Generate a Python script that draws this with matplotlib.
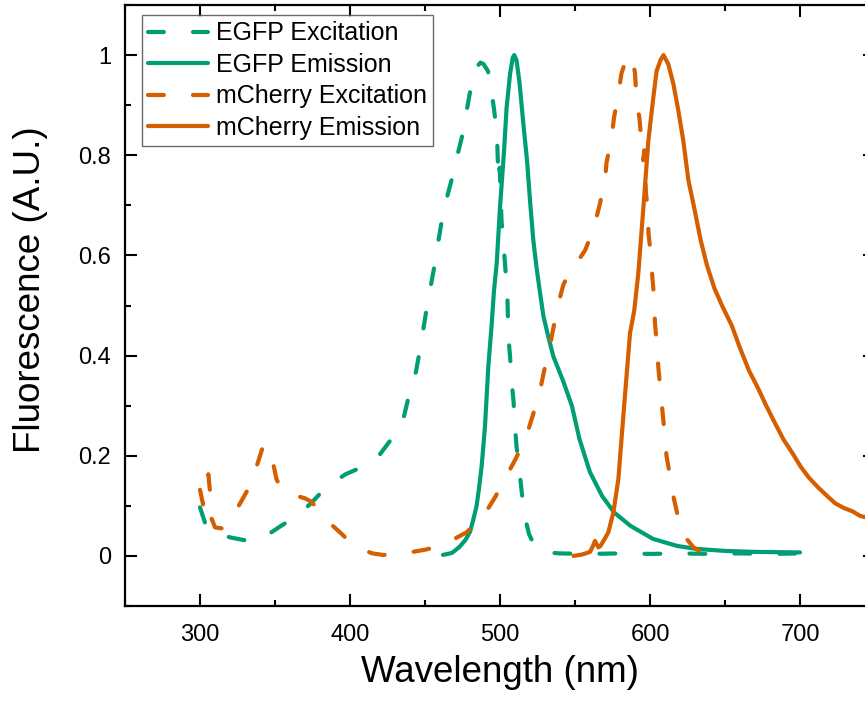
import matplotlib
matplotlib.use("Agg")
import matplotlib.pyplot as plt
from matplotlib.ticker import MultipleLocator, FuncFormatter

plt.rcParams['font.family'] = ['Liberation Sans', 'DejaVu Sans']

GREEN = '#009E73'
ORANGE = '#D55E00'

# EGFP excitation spectrum
egfp_ex_nm = [300, 304, 310, 320, 332, 340, 344, 353, 365, 374, 384, 397, 410, 420, 430,
              436, 440, 444, 447, 449, 452, 457, 459, 462, 465, 469, 472, 476, 478, 481,
              484, 487, 489, 492, 494, 496, 498, 498.5, 499.3, 499.8, 501, 502.5, 503.5,
              505, 505.6, 506.7, 507.8, 509, 510, 511, 513, 514.4, 516.2, 519.3, 523,
              527, 531, 540, 560, 580, 600, 620, 640, 660, 680, 700]
egfp_ex = [0.097, 0.060, 0.048, 0.037, 0.030, 0.034, 0.040, 0.058, 0.081, 0.105, 0.137,
           0.163, 0.180, 0.203, 0.243, 0.279, 0.329, 0.368, 0.418, 0.455, 0.510, 0.590,
           0.630, 0.684, 0.720, 0.765, 0.805, 0.853, 0.893, 0.942, 0.975, 0.985, 0.982,
           0.968, 0.932, 0.893, 0.840, 0.793, 0.750, 0.775, 0.670, 0.617, 0.577, 0.510,
           0.438, 0.398, 0.348, 0.309, 0.259, 0.219, 0.170, 0.130, 0.083, 0.044, 0.020,
           0.010, 0.007, 0.005, 0.004, 0.005, 0.004, 0.005, 0.004, 0.005, 0.004, 0.005]

# EGFP emission spectrum
egfp_em_nm = [462, 468, 473, 477, 480, 482, 484.4, 486, 487.8, 490, 492.2, 494.4, 496,
              497.8, 500, 502.7, 504.4, 506.7, 508.5, 509.5, 511, 513, 515.5, 518, 520,
              522.2, 524.4, 526.7, 529, 532, 535.6, 542, 548, 553, 560, 568, 576, 587, 602,
              618, 631, 650, 670, 700]
egfp_em = [0.002, 0.006, 0.018, 0.032, 0.048, 0.070, 0.100, 0.135, 0.180, 0.259, 0.378,
           0.460, 0.530, 0.584, 0.696, 0.809, 0.895, 0.962, 0.995, 1.000, 0.990, 0.945,
           0.865, 0.790, 0.710, 0.630, 0.575, 0.525, 0.478, 0.440, 0.398, 0.350, 0.299,
           0.233, 0.167, 0.120, 0.087, 0.060, 0.034, 0.020, 0.014, 0.010, 0.008, 0.007]

# mCherry excitation spectrum
mch_ex_nm = [300, 302, 303.5, 305.6, 306.7, 307.8, 310, 314.4, 320, 325.6, 332, 338, 342,
             343.5, 346, 348.4, 351, 355, 363, 370, 374.4, 378, 385.6, 394.4, 401, 409,
             415, 422, 430, 438, 451, 460, 467, 477.7, 489, 496.7, 504.4, 511, 518, 522,
             526.7, 529.3, 533, 535.6, 539, 542.2, 546, 550, 556.7, 560, 563.3, 566.7,
             570, 571, 574.4, 576, 579, 581, 584, 586.7, 588.5, 590, 591, 593, 594.4,
             595.5, 596.2, 597.3, 598.4, 599, 600.4, 601.6, 602.7, 603.3, 604.4, 605.6,
             606.7, 608.4, 609.6, 611, 613.3, 616, 619, 622, 624.4, 629, 633, 637]
mch_ex = [0.132, 0.103, 0.130, 0.163, 0.127, 0.074, 0.057, 0.055, 0.070, 0.099, 0.133,
          0.181, 0.219, 0.222, 0.205, 0.190, 0.153, 0.130, 0.121, 0.115, 0.108, 0.095,
          0.068, 0.044, 0.025, 0.012, 0.005, 0.002, 0.003, 0.006, 0.013, 0.020, 0.030,
          0.047, 0.080, 0.117, 0.160, 0.197, 0.243, 0.282, 0.330, 0.368, 0.415, 0.455,
          0.505, 0.541, 0.565, 0.580, 0.610, 0.635, 0.664, 0.704, 0.750, 0.785, 0.835,
          0.875, 0.924, 0.964, 0.990, 1.000, 0.990, 0.964, 0.912, 0.873, 0.823, 0.790,
          0.810, 0.724, 0.696, 0.644, 0.606, 0.555, 0.517, 0.465, 0.428, 0.375, 0.339,
          0.286, 0.249, 0.200, 0.160, 0.113, 0.074, 0.050, 0.034, 0.017, 0.010, 0.006]

# mCherry emission spectrum
mch_em_nm = [549, 555, 560, 562, 563.3, 565.6, 567, 570, 572.2, 575.6, 578.9, 581, 584,
             586.7, 589.5, 592.2, 595.6, 598.9, 602.2, 604.4, 607, 609, 612.2, 615.6,
             618.9, 622.2, 625.6, 629.2, 633.8, 638, 643, 648, 654.5, 660, 666, 672,
             677.3, 683, 688.9, 695, 700.5, 706, 712, 718, 723.5, 729, 735, 740, 746.5, 750]
mch_em = [0.000, 0.003, 0.008, 0.020, 0.030, 0.017, 0.020, 0.035, 0.047, 0.087, 0.153,
          0.233, 0.346, 0.445, 0.490, 0.564, 0.696, 0.829, 0.915, 0.968, 0.990, 1.000,
          0.982, 0.942, 0.889, 0.829, 0.750, 0.699, 0.630, 0.580, 0.534, 0.500, 0.460,
          0.415, 0.370, 0.335, 0.301, 0.267, 0.233, 0.205, 0.178, 0.156, 0.137,
          0.120, 0.105, 0.096, 0.089, 0.080, 0.075, 0.071]

series = [
    (egfp_ex_nm, egfp_ex, GREEN, 'dashed', 'EGFP Excitation'),
    (egfp_em_nm, egfp_em, GREEN, 'solid', 'EGFP Emission'),
    (mch_ex_nm, mch_ex, ORANGE, 'dashed', 'mCherry Excitation'),
    (mch_em_nm, mch_em, ORANGE, 'solid', 'mCherry Emission'),
]

W, H = 865, 703
fig = plt.figure(figsize=(W / 100, H / 100), dpi=100)
# axes span 250-750 nm; the right edge runs slightly past the canvas
ax = fig.add_axes([125 / W, (H - 606) / H, 750 / W, 601 / H])

for x, y, c, ls, lab in series:
    line, = ax.plot(x, y, color=c, lw=3.0, label=lab,
                    solid_capstyle='round', dash_capstyle='round',
                    solid_joinstyle='round')
    if ls == 'dashed':
        line.set_dashes([3.8, 7.0])

ax.set_xlim(250, 750)
ax.set_ylim(-0.1, 1.1)
ax.xaxis.set_major_locator(MultipleLocator(100))
ax.xaxis.set_minor_locator(MultipleLocator(50))
ax.yaxis.set_major_locator(MultipleLocator(0.2))
ax.yaxis.set_minor_locator(MultipleLocator(0.1))


def yfmt(v, pos):
    s = f'{v:.1f}'
    if s.endswith('.0'):
        s = s[:-2]
    if s == '-0':
        s = '0'
    return s


ax.yaxis.set_major_formatter(FuncFormatter(yfmt))

ax.set_xticks([300, 400, 500, 600, 700])
ax.tick_params(which='both', direction='in', top=True, right=True, width=1.5,
               labelsize=17, color='black')
ax.tick_params(which='major', length=8.5)
ax.tick_params(which='minor', length=4.5)
ax.tick_params(axis='x', which='major', pad=13)
ax.tick_params(axis='y', which='major', pad=10)
for s in ax.spines.values():
    s.set_linewidth(1.6)

ax.set_xlabel('Wavelength (nm)', fontsize=26.5, labelpad=6.5)
ax.set_ylabel('Fluorescence (A.U.)', fontsize=26.5)
ax.yaxis.set_label_coords(-0.1027, 0.526)

leg = ax.legend(loc='upper left', bbox_to_anchor=(17 / 750, 1 - 10 / 601),
                borderaxespad=0, fontsize=18, frameon=True, fancybox=False,
                handlelength=2.4, handletextpad=0.3, borderpad=0.25,
                labelspacing=0.3)
leg.get_frame().set_edgecolor('#444444')
leg.get_frame().set_linewidth(1.0)

fig.savefig('out.png', dpi=100, facecolor='white')
